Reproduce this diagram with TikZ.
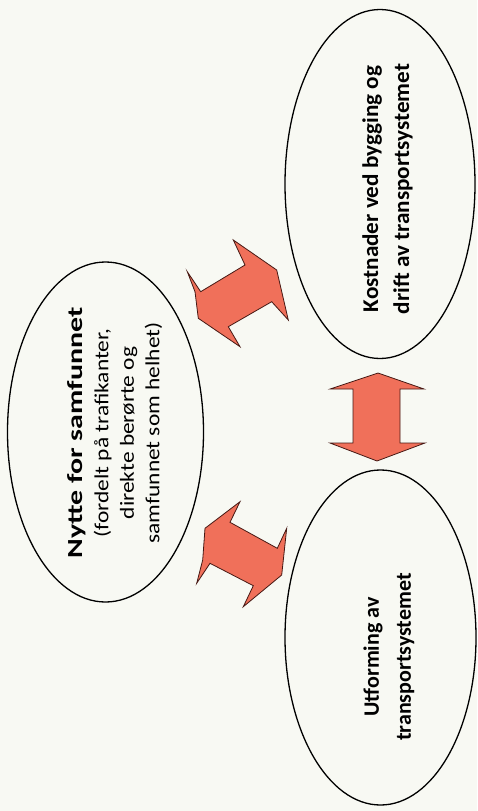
\documentclass[tikz,border=0pt]{standalone}
\usepackage{fontspec}
\setmainfont{Carlito}
\newfontfamily\kfont[FakeStretch=1.03]{Carlito}
\newfontfamily\nheadfont[FakeStretch=1.39]{Carlito}
\newfontfamily\nbodyfont[FakeStretch=1.17]{Carlito}
\usetikzlibrary{shapes.geometric}
\definecolor{bgcol}{RGB}{248,249,243}
\definecolor{arrowfill}{RGB}{240,112,90}
\definecolor{arrowline}{RGB}{70,25,20}
\tikzset{
  oval/.style={ellipse, draw=black, line width=1.3pt, inner sep=0pt},
  blockarrow/.style={fill=arrowfill, draw=arrowline, line width=0.8pt, line join=miter},
  lbl/.style={rotate=90, align=center, inner sep=0pt, text=black}
}
\begin{document}
\begin{tikzpicture}[x=1pt,y=-1pt]
\fill[bgcol] (0,0) rectangle (477,811);
\useasboundingbox (0,0) rectangle (477,811);

% ellipses
\node[oval, minimum width=190pt, minimum height=349pt] (K) at (380,184) {};
\node[oval, minimum width=196pt, minimum height=340pt] (N) at (105.5,432) {};
\node[oval, minimum width=191pt, minimum height=335pt] (U) at (380.5,637.5) {};

% texts
\node[lbl, font=\kfont\bfseries\fontsize{22.5}{31}\selectfont] (kt) at (387.5,189)
  {Kostnader ved bygging og\\drift av transportsystemet};
\node[lbl, font=\nbodyfont\fontsize{20}{25.5}\selectfont] (nt) at (115,433)
  {{\nheadfont\bfseries\fontsize{21.5}{25.5}\selectfont Nytte for samfunnet}\\(fordelt på trafikanter,\\direkte berørte og\\samfunnet som helhet)};
\node[lbl, font=\bfseries\fontsize{22}{32}\selectfont] (ut) at (389,657)
  {Utforming av\\transportsystemet};

% vertical double arrow (K <-> U)
\draw[blockarrow] (378,373) -- (424,389) -- (400,389) -- (400,443) -- (425,443)
  -- (377,461) -- (330,443) -- (353,443) -- (353,389) -- (330,389) -- cycle;

% upper diagonal double arrow (N <-> K)
\draw[blockarrow] (187.3,271.7) -- (200.7,291.7) -- (245.0,265.0) -- (233.3,240.0)
  -- (276.7,270.0) -- (288.3,320.0) -- (271.7,301.7) -- (228.3,326.7)
  -- (240.0,346.7) -- (198.3,318.3) -- (195.0,291.7) -- cycle;

% lower diagonal double arrow (N <-> U)
\draw[blockarrow] (240,501.7) -- (230,522.3) -- (277.3,548.3) -- (286.7,528.3)
  -- (281.7,575) -- (243.3,606.7) -- (253.3,585.7) -- (210,563.3)
  -- (196.7,583.3) -- (202.7,560) -- (205,528.3) -- cycle;
\end{tikzpicture}
\end{document}
